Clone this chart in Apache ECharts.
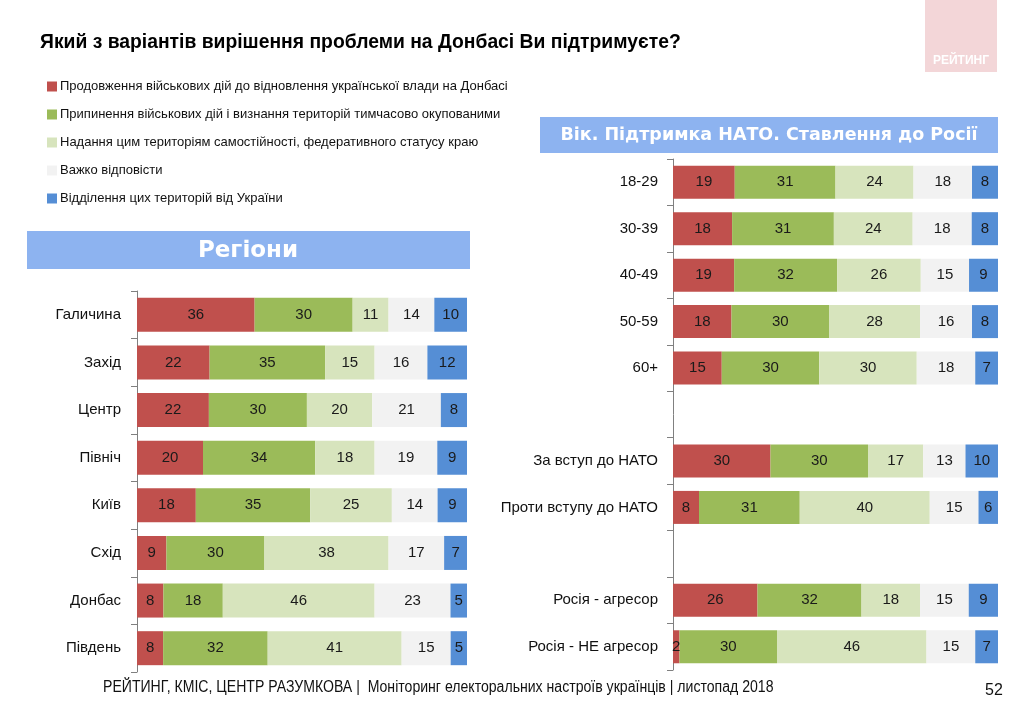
<!DOCTYPE html>
<html><head><meta charset="utf-8">
<script src="https://cdn.jsdelivr.net/npm/echarts@6/dist/echarts.min.js"></script>
<style>html,body{margin:0;padding:0;background:#fff}#c{width:1024px;height:701px}</style>
</head><body><div id="c"></div>
<script>
const seriesNames = [
  'Продовження військових дій до відновлення української влади на Донбасі',
  'Припинення військових дій і визнання територій тимчасово окупованими',
  'Надання цим територіям самостійності, федеративного статусу краю',
  'Важко відповісти',
  'Відділення цих територій від України'
];
const colors = ['#C0504D', '#9BBB59', '#D7E4BD', '#F2F2F2', '#558ED5'];

const regionCats = ['Галичина', 'Захід', 'Центр', 'Північ', 'Київ', 'Схід', 'Донбас', 'Південь'];
const regionWar      = [36, 22, 22, 20, 18, 9, 8, 8];
const regionStop     = [30, 35, 30, 34, 35, 30, 18, 32];
const regionAutonomy = [11, 15, 20, 18, 25, 38, 46, 41];
const regionHard     = [14, 16, 21, 19, 14, 17, 23, 15];
const regionSeparate = [10, 12, 8, 9, 9, 7, 5, 5];

const groupCats = ['18-29', '30-39', '40-49', '50-59', '60+', '', 'За вступ до НАТО', 'Проти вступу до НАТО', ' ', 'Росія - агресор', 'Росія - НЕ агресор'];
const groupWar      = [19, 18, 19, 18, 15, null, 30, 8, null, 26, 2];
const groupStop     = [31, 31, 32, 30, 30, null, 30, 31, null, 32, 30];
const groupAutonomy = [24, 24, 26, 28, 30, null, 17, 40, null, 18, 46];
const groupHard     = [18, 18, 15, 16, 18, null, 13, 15, null, 15, 15];
const groupSeparate = [8, 8, 9, 8, 7, null, 10, 6, null, 9, 7];

const FONT = '"Liberation Sans Narrow", "Liberation Sans", Arial, sans-serif';

function normalize(arrs) {
  return arrs.map(a => a.map((v, i) => {
    if (v === null) return null;
    const sum = arrs.reduce((s, b) => s + (b[i] || 0), 0);
    return { value: v / sum * 100, raw: v };
  }));
}
const regionData = normalize([regionWar, regionStop, regionAutonomy, regionHard, regionSeparate]);
const groupData = normalize([groupWar, groupStop, groupAutonomy, groupHard, groupSeparate]);

function mkSeries(dataSets, idx, bw) {
  return dataSets.map((d, k) => ({
    name: seriesNames[k], type: 'bar', stack: 's' + idx,
    xAxisIndex: idx, yAxisIndex: idx, barWidth: bw,
    itemStyle: { color: colors[k] },
    label: { show: true, position: 'inside', color: '#1a1a1a', fontSize: 15, fontFamily: FONT,
      formatter: p => p.data && p.data.raw != null ? String(p.data.raw) : '' },
    data: d
  }));
}

const chart = echarts.init(document.getElementById('c'), null, { renderer: 'canvas' });
const axisY = (cats, margin) => ({
  type: 'category', data: cats, inverse: true,
  axisLine: { lineStyle: { color: '#808080' } },
  axisTick: { show: true, lineStyle: { color: '#808080' }, length: 6 },
  axisLabel: { color: '#111', fontSize: 15, fontFamily: FONT, margin: margin }
});
const axisX = () => ({ type: 'value', min: 0, max: 100, show: false });

chart.setOption({
  backgroundColor: '#fff',
  animation: false,
  legend: {
    orient: 'vertical', left: 42, top: 75, itemWidth: 10, itemHeight: 10, itemGap: 15,
    icon: 'rect', data: seriesNames, selectedMode: false,
    textStyle: { fontSize: 13, color: '#111', fontFamily: FONT, padding: [0, 0, 0, -2] }
  },
  grid: [
    { left: 137, width: 330, top: 291, height: 381 },
    { left: 673, width: 325, top: 159, height: 511 }
  ],
  xAxis: [axisX(), Object.assign(axisX(), { gridIndex: 1 })],
  yAxis: [axisY(regionCats, 16), Object.assign(axisY(groupCats, 15), { gridIndex: 1 })],
  series: mkSeries(regionData, 0, 34).concat(mkSeries(groupData, 1, 33)),
  graphic: [
    { type: 'text', x: 40, y: 42, scaleX: 0.92, style: { text: 'Який з варіантів вирішення проблеми на Донбасі Ви підтримуєте?', fill: '#000', font: 'bold 21px ' + FONT, textVerticalAlign: 'middle' } },
    { type: 'rect', shape: { x: 925, y: 0, width: 72, height: 72 }, style: { fill: '#F3D6D8' } },
    { type: 'text', x: 961, y: 61, style: { text: 'РЕЙТИНГ', fill: '#fff', font: 'bold 12px ' + FONT, textAlign: 'center', textVerticalAlign: 'middle' } },
    { type: 'rect', shape: { x: 27, y: 231, width: 443, height: 38 }, style: { fill: '#8DB3F0' } },
    { type: 'text', x: 248, y: 251, style: { text: 'Регіони', fill: '#fff', font: 'bold 23px "DejaVu Sans", sans-serif', textAlign: 'center', textVerticalAlign: 'middle' } },
    { type: 'rect', shape: { x: 540, y: 117, width: 458, height: 36 }, style: { fill: '#8DB3F0' } },
    { type: 'text', x: 769, y: 135, style: { text: 'Вік. Підтримка НАТО. Ставлення до Росії', fill: '#fff', font: 'bold 17.5px "DejaVu Sans", sans-serif', textAlign: 'center', textVerticalAlign: 'middle' } },
    { type: 'text', x: 103, y: 688, scaleX: 0.88, style: { text: 'РЕЙТИНГ, КМІС, ЦЕНТР РАЗУМКОВА |  Моніторинг електоральних настроїв українців | листопад 2018', fill: '#111', font: '16px ' + FONT, textVerticalAlign: 'middle' } },
    { type: 'text', x: 985, y: 691, style: { text: '52', fill: '#111', font: '16px ' + FONT, textVerticalAlign: 'middle' } }
  ]
});
</script></body></html>
